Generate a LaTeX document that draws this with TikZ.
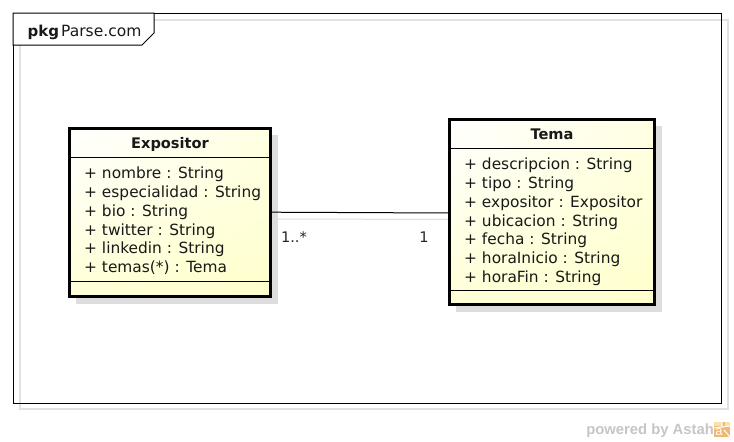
\documentclass[tikz,border=0pt]{standalone}
\usepackage{fontspec}
\setmainfont{DejaVu Sans}
\newfontfamily\wm{Liberation Sans}
\usetikzlibrary{calc,shadings}
\definecolor{shadowgray}{RGB}{221,221,221}
\definecolor{framegray}{RGB}{225,225,225}
\definecolor{boxyellow}{RGB}{255,255,204}
\definecolor{wmgray}{RGB}{198,198,198}
\definecolor{logoor}{RGB}{240,170,90}
\definecolor{logolt}{RGB}{250,225,170}
\tikzset{
  classbox/.style={draw=black,line width=2.6pt,minimum width=#1,inner sep=0pt,outer sep=0pt},
  sep/.style={draw=black,line width=0.8pt},
  ctitle/.style={font=\fontsize{14.6}{16}\selectfont\bfseries,inner sep=0pt,text=black!90},
  attrs/.style={font=\fontsize{15.4}{18.75}\selectfont,inner sep=0pt,anchor=north west,align=left,text=black!90},
  mult/.style={font=\fontsize{14.6}{16}\selectfont,inner sep=0pt,text=black!85},
}
\begin{document}
\begin{tikzpicture}[x=1pt,y=-1pt]
\useasboundingbox (0,0) rectangle (734,442);
\fill[white] (0,0) rectangle (734,442);
% frame shadow and frame
\draw[framegray,line width=1.2pt] (20,20) rectangle (728,409);
\node[draw=black,line width=1pt,fill=none,minimum width=708pt,minimum height=390pt,inner sep=0pt,anchor=north west] (frame) at (13,13) {};
% tab
\coordinate (tabA) at (13,45);
\coordinate (tabB) at (142,45);
\coordinate (tabC) at (154,33);
\coordinate (tabD) at (154,13);
\fill[white] (tabA) -- (tabB) -- (tabC) -- (tabD) -- (13,13) -- cycle;
\draw[black,line width=1pt] (13,13) -- (tabD) -- (tabC) -- (tabB) -- (tabA) -- cycle;
\node[font=\fontsize{15}{16}\selectfont\bfseries,inner sep=0pt,anchor=base west,text=black!90] (pk) at (27.5,36) {pkg};
\node[font=\fontsize{15.5}{16}\selectfont,inner sep=0pt,anchor=base west,text=black!90] (pn) at (61,36) {Parse.com};
% shadows
\fill[shadowgray] (76,135) rectangle (278,304);
\fill[shadowgray] (456,126) rectangle (662,312);
% association shadow
\coordinate (ls1) at (278,219);
\coordinate (ls2) at (456,219.5);
\draw[shadowgray,line width=1pt] (ls1) -- (ls2);
% Expositor
\shade[upper left=white,upper right=boxyellow!55,lower left=boxyellow!80,lower right=boxyellow] (70,129) rectangle (270,296);
\node[classbox=201pt,minimum height=168pt,anchor=north west] (expo) at (69.7,128.7) {};
\draw[sep] (70,157.5) -- (270,157.5);
\draw[sep] (70,281.5) -- (270,281.5);
\node[ctitle] (expoT) at (170,144) {Expositor};
\node[attrs] (expoA) at (84,167) {+ nombre : String\\+ especialidad : String\\+ bio : String\\+ twitter : String\\+ linkedin : String\\+ temas(*) : Tema};
% Tema
\shade[upper left=white,upper right=boxyellow!55,lower left=boxyellow!80,lower right=boxyellow] (450,120) rectangle (654,304);
\node[classbox=205pt,minimum height=185pt,anchor=north west] (tema) at (449.7,119.7) {};
\draw[sep] (450,148.5) -- (654,148.5);
\draw[sep] (450,290.5) -- (654,290.5);
\node[ctitle] (temaT) at (552,134.5) {Tema};
\node[attrs] (temaA) at (464,158) {+ descripcion : String\\+ tipo : String\\+ expositor : Expositor\\+ ubicacion : String\\+ fecha : String\\+ horaInicio : String\\+ horaFin : String};
% association
\coordinate (c1) at ($(expo.north east)+(0,83.5)$);
\coordinate (c2) at ($(tema.north west)+(0,93.3)$);
\draw[black,line width=1pt] (c1) -- (c2);
\node[mult] (m1) at (294,237.5) {1..*};
\node[mult] (m2) at (424,237.5) {1};
% watermark
\node[font=\wm\fontsize{14.8}{16}\selectfont\bfseries,text=wmgray,inner sep=0pt,anchor=base east] (wm) at (714,434) {powered by Astah};
\fill[logoor!85] (714,422) rectangle (730,437);
\fill[logolt] (714,422) rectangle (722,426) (725,422) rectangle (730,426);
\draw[white,line width=1pt] (722,422) -- (722,427) (714,428) -- (730,426) (724,430) -- (730,437);
\node[font=\wm\fontsize{13}{14}\selectfont,text=white,inner sep=0pt] (lg) at (719,432) {a};
\end{tikzpicture}
\end{document}
